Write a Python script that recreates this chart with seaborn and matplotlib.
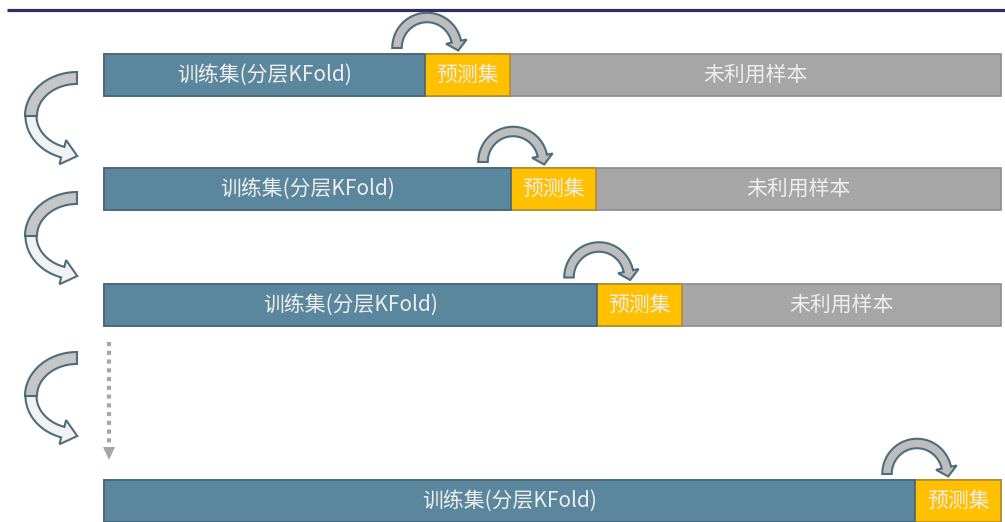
import numpy as np
import pandas as pd
import matplotlib
matplotlib.use("Agg")
import matplotlib.pyplot as plt
from matplotlib.patches import Polygon
import seaborn as sns

# segment lengths per fold row (px)
folds = ["fold1", "fold2", "fold3", "foldN"]
train_len = [321, 407, 493, 811]
pred_len = [85, 85, 85, 86]
unused_len = [491, 405, 319, 0]

train_label = "训练集(分层KFold)"
pred_label = "预测集"
unused_label = "未利用样本"

# layout (pixel coordinates of the original)
row_y = [75, 189, 304.5, 501]
X0 = 104
BAR_H = 42
left_arrow_off = [0, 120, 280]

BLUE = "#5b879e"
YELLOW = "#ffc000"
GREY = "#a6a6a6"
EDGE = "#4d6d7e"

df = pd.DataFrame({"fold": folds, "train": train_len, "pred": pred_len,
                   "unused": unused_len, "y": row_y})
df["train_pred"] = df["train"] + df["pred"]
df["total"] = df["train_pred"] + df["unused"]

sns.set_theme(style="white")
plt.rcParams["font.family"] = ["Noto Sans CJK SC", "DejaVu Sans"]

fig = plt.figure(figsize=(10.05, 5.22), dpi=100)
ax = fig.add_axes([0, 0, 1, 1])

w = BAR_H / np.diff(sorted(row_y)).min()
# stacked bars by overlaying cumulative totals
sns.barplot(data=df, x="total", y="y", orient="h", native_scale=True, width=w,
            color=GREY, saturation=1, edgecolor="#8c8c8c", linewidth=1.2,
            errorbar=None, ax=ax)
sns.barplot(data=df, x="train_pred", y="y", orient="h", native_scale=True, width=w,
            color=YELLOW, saturation=1, edgecolor="#b08d2a", linewidth=1.2,
            errorbar=None, ax=ax)
sns.barplot(data=df, x="train", y="y", orient="h", native_scale=True, width=w,
            color=BLUE, saturation=1, edgecolor="#45657a", linewidth=1.2,
            errorbar=None, ax=ax)

for _, r in df.iterrows():
    kw = dict(ha="center", va="center", color="#eeeeee", fontsize=15)
    ax.text(r["train"] / 2, r["y"], train_label, **kw)
    ax.text(r["train"] + r["pred"] / 2, r["y"], pred_label, **kw)
    if r["unused"] > 0:
        ax.text(r["train_pred"] + r["unused"] / 2, r["y"], unused_label, **kw)


def ribbon(cx, cy, rx, ry, a0, a1, t, face, head=None):
    a = np.radians(np.linspace(a0, a1, 80))
    outer = np.column_stack([cx + (rx + t / 2) * np.cos(a), cy - (ry + t / 2) * np.sin(a)])
    inner = np.column_stack([cx + (rx - t / 2) * np.cos(a), cy - (ry - t / 2) * np.sin(a)])
    pts = list(outer)
    if head is not None:
        hw, hl = head
        ae = a[-1]
        b = np.array([cx + rx * np.cos(ae), cy - ry * np.sin(ae)])
        d = np.sign(a1 - a0) * np.array([-rx * np.sin(ae), -ry * np.cos(ae)])
        d = d / np.linalg.norm(d)
        n = np.array([-d[1], d[0]])
        if np.dot(n, outer[-1] - b) < 0:
            n = -n
        pts += [b + n * hw / 2, b + d * hl, b - n * hw / 2]
    pts += list(inner[::-1])
    pts = np.array(pts)
    pts[:, 0] -= X0
    ax.add_patch(Polygon(pts, closed=True, facecolor=face, edgecolor=EDGE,
                         linewidth=1.5, joinstyle="miter", zorder=5))


# curved arrows over each prediction block
for tr, y in zip(train_len, row_y):
    cx = X0 + tr + 2
    cy = y - BAR_H / 2 - 6
    ribbon(cx, cy, 30, 30.5, 180, 12, 9.5, "#bdbdbd", head=(21, 9))

# C-shaped arrows on the left
for off in left_arrow_off:
    ribbon(77, 116 + off, 46, 38, 90, 180, 12, "#c6c6c6")
    ribbon(77, 116 + off, 46, 38, 180, 252, 11, "#f2f2f2", head=(25, 15))

# dotted "..." arrow
ax.plot([109 - X0, 109 - X0], [342, 445], color=GREY, lw=3,
        linestyle=(0, (1, 1.1)), solid_capstyle="butt")
ax.add_patch(Polygon([[103 - X0, 447], [115 - X0, 447], [109 - X0, 460]],
                     closed=True, facecolor=GREY, edgecolor="none"))

# header rule
ax.plot([7 - X0, 1005 - X0], [10, 10], color="#2f2f5e", lw=2.3, solid_capstyle="butt")

ax.set_xlim(-X0, 1005 - X0)
ax.set_ylim(522, 0)
ax.axis("off")

fig.savefig("out.png", dpi=100)
